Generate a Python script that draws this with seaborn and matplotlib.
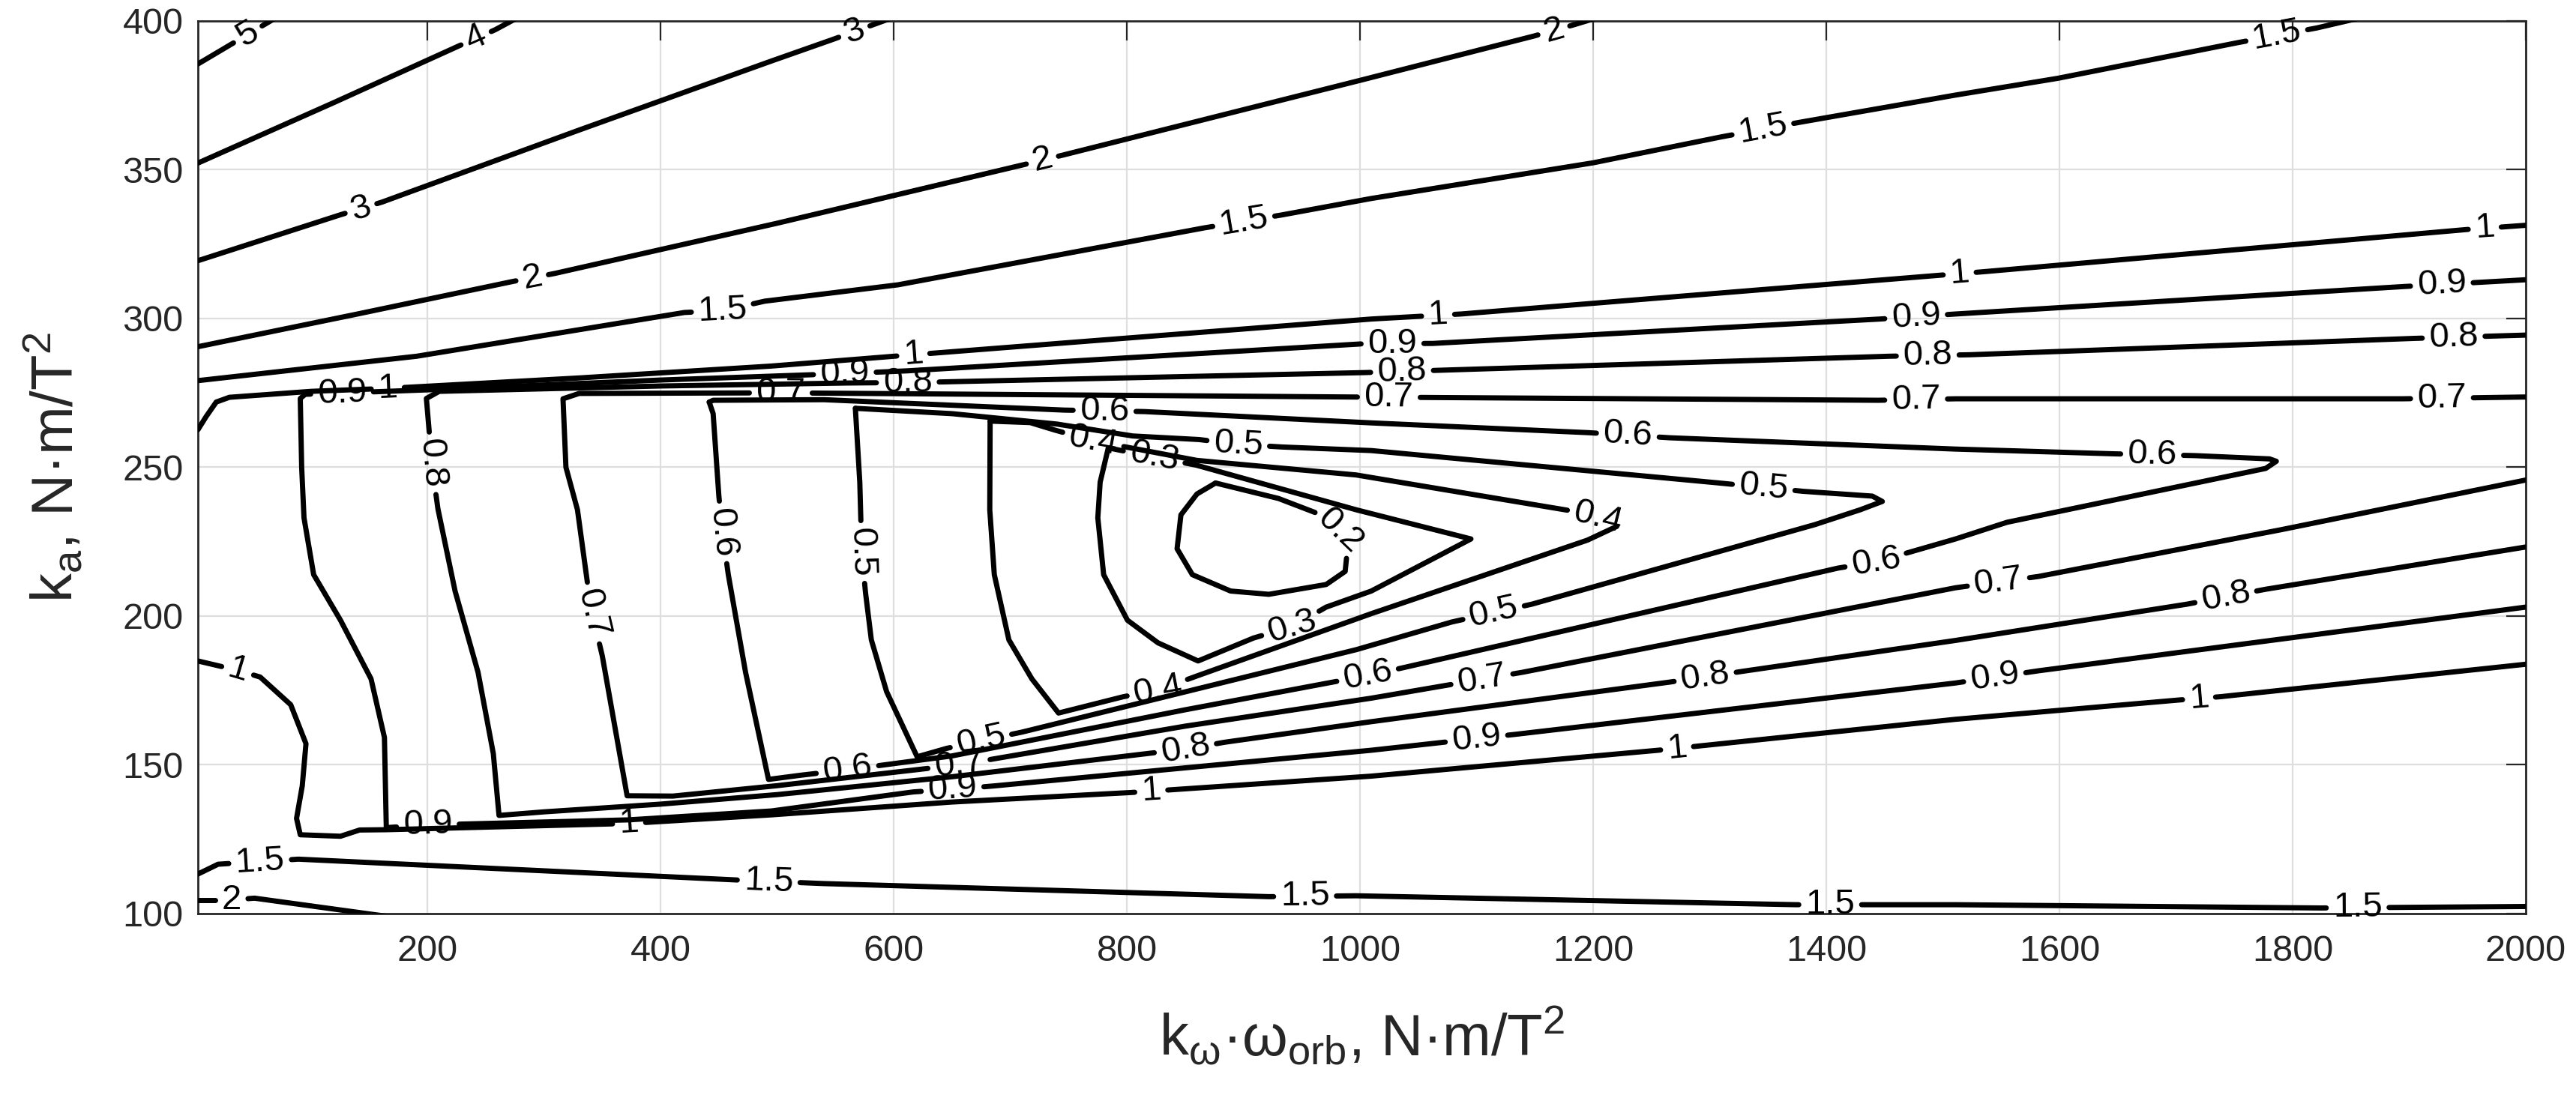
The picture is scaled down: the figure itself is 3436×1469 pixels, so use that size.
import numpy as np
import pandas as pd
import matplotlib
matplotlib.use("Agg")
import matplotlib.pyplot as plt
import seaborn as sns

# ---------------- data: contour lines ----------------
# x = k_w*w_orb (N*m/T^2), y = k_a (N*m/T^2)
lvl5_x = [3, 68, 72]
lvl5_y = [385.5, 400.6, 401.5]

lvl4_x = [3, 120, 227, 258, 276]
lvl4_y = [352.2, 372.6, 391.6, 397.0, 400.8]

lvl3_x = [3, 125, 161, 330, 495, 548, 597]
lvl3_y = [319.4, 334.8, 339.1, 363.3, 386.5, 393.8, 400.8]

lvl2_top_x = [3, 140, 272.8, 308.9, 500, 711.8, 746.2, 1000, 1149.2, 1183.6, 1203]
lvl2_top_y = [290.5, 301.5, 312.4, 315.1, 332.0, 351.7, 355.0, 380.0, 394.9, 398.7, 401.0]
lvl2_bot_x = [3, 13.8, 31.8, 51.5, 163, 172]
lvl2_bot_y = [104.6, 104.6, 104.6, 105.2, 99.2, 98.7]

lvl15_top_x = [3, 190.8, 420.4, 453.2, 489.2, 603.6, 865.9, 933.2, 1009.5, 1200, 1309.8,
               1377, 1510, 1598.7, 1753.3, 1820.6, 1858]
lvl15_top_y = [279.1, 287.3, 302.0, 302.6, 305.8, 311.3, 330.4, 334.8, 340.3, 352.3, 361.0,
               365.9, 375.0, 380.7, 392.7, 397.6, 401.0]
lvl15_bot_x = [3, 20.3, 56.4, 89.2, 471.2, 539.7, 921.7, 996.7, 1373.8, 1510.8, 1823.9, 2000]
lvl15_bot_y = [113.3, 116.6, 117.5, 118.3, 111.2, 110.1, 105.7, 106.0, 103.0, 103.0, 101.9, 102.4]

lvl1_top_x = [3, 10, 18.7, 30, 100, 166, 330, 495, 600.3, 1009.6, 1086.9, 1500, 1534.9, 1950, 2000]
lvl1_top_y = [262.6, 267.0, 271.9, 273.5, 275.5, 276.5, 280.0, 284.0, 287.3, 299.8, 301.5, 314.6,
              315.7, 329.9, 331.3]
lvl1_bot_x = [3, 36.7, 56.4, 82.6, 95.7, 92.5, 87.6, 90.8, 125.3, 141.7, 164.6, 372.8, 495.4, 650,
              803.6, 1009.6, 1255.7, 1510.8, 1702.9, 1738.2, 2000]
lvl1_bot_y = [184.9, 181.8, 179.5, 170.2, 157.1, 142.9, 132.0, 126.5, 126.0, 128.1, 128.2, 130.3,
              133.2, 137.5, 140.7, 146.2, 154.9, 165.3, 171.8, 172.9, 183.8]

lvl09_x = [2000, 1894.5, 1511.3, 1445.9, 1062.3, 1003.6, 612, 560, 400, 200, 95, 90.8,
           92, 94, 102.3, 125.3, 151.5, 163, 164.6,
           200, 372, 495, 616.7, 651, 685.6, 1009.6, 1134.4, 1510.8, 1582, 2000]
lvl09_y = [313.0, 310.7, 301.5, 299.8, 291.6, 291.5, 282.4, 281.5, 279.3, 276.0, 274.5, 273.1,
           250, 233, 213.9, 198.6, 178.9, 159.2, 128.9,
           129.8, 131.5, 134.5, 140.9, 141.8, 142.9, 154.9, 160.3, 177.5, 181.6, 203.0]

lvl08_x = [2000, 1904.6, 1523.1, 1454.1, 1003.6, 621.6, 560, 400, 210, 199,
           204, 208.9, 223.6, 243.3, 256.4, 261.3,
           300, 400, 500, 650, 850, 884, 1009.6, 1265.6, 1331.2, 1510.8, 1709.6, 1776.9, 2000]
lvl08_y = [294.4, 293.3, 287.8, 287.3, 281.8, 278.5, 278.3, 277.3, 275.5, 273.1,
           250, 236, 208.4, 181.1, 153.8, 133.0,
           134.2, 136.8, 140.0, 146.0, 155.3, 157.6, 164.5, 177.8, 181.6, 191.8, 204.0, 209.0, 223.2]

lvl07_x = [2000, 1894.5, 1511.3, 1444.3, 992.2, 610.2, 500, 330, 316.2,
           318.7, 328.6, 340, 349.9, 371.2,
           410.5, 500, 656, 850, 1009.6, 1139.3, 1510.8, 1582, 1790, 2000]
lvl07_y = [273.6, 273.0, 273.0, 272.5, 273.6, 274.7, 275.0, 274.8, 273.0,
           250, 235.7, 203, 186.6, 139.6,
           139.5, 143.0, 150.0, 163.0, 172.4, 181.1, 209.5, 213.3, 229.0, 245.7]

lvl06_x = [441.6, 445, 449.9, 453, 458, 472.8, 492.5,
           520, 559.3, 650, 850, 1006.5, 1037.7, 1409.9, 1442.6, 1510.8, 1555, 1776.9, 1786,
           1780.2, 1716.4, 1647.5, 1510.8, 1265.6, 1196.7, 1009.6, 815.1, 746.2, 540, 445, 441.6]
lvl06_y = [271.9, 268, 240.3, 228, 213.9, 181.1, 145.1,
           146.5, 148.3, 153.0, 168.5, 180.0, 182.7, 216.1, 218.2, 225.9, 231.5, 249.6, 252.0,
           252.8, 253.9, 254.5, 256.1, 259.9, 261.6, 264.9, 268.7, 269.2, 272.7, 272.5, 271.9]

lvl05_x = [567, 570.8, 572.5, 575.7, 580.7, 593.8, 620,
           645, 675.7, 710, 996.7, 1078.7, 1147.5, 1390, 1429, 1448,
           1439.4, 1380.3, 1308.2, 1009.6, 933, 895.4, 862, 805, 740, 650, 567]
lvl05_y = [269.8, 245.0, 221.0, 207.9, 192.0, 174.6, 152.7,
           155.5, 158.2, 161.0, 188.7, 198.0, 204.0, 230.7, 235.7, 238.5,
           240.3, 241.9, 244.7, 255.6, 256.8, 257.7, 259.3, 260.5, 264.5, 268.0, 269.8]

lvl04_x = [682.6, 682.3, 686.2, 698.7, 718.4, 741.3, 797, 826.6, 861, 1009.6, 1195, 1225,
           1180.3, 996.7, 860, 770.8, 738, 717, 682.6]
lvl04_y = [265.5, 235.7, 213.9, 192.0, 178.9, 167.4, 172.9, 175.1, 180.0, 200.8, 225.5, 231.0,
           235.4, 247.4, 252.3, 258.9, 262.5, 265.0, 265.5]

lvl03_x = [784, 777, 775, 780, 800.4, 826.6, 861, 908.5, 941.4, 970.9, 1009.6, 1095.1,
           996.7, 859.4, 823.3, 784]
lvl03_y = [256.5, 245, 233, 213.9, 198.6, 191.0, 184.9, 192.6, 196.4, 203.0, 208.4, 225.9,
           235.7, 250.7, 253.4, 256.5]

lvl02_x = [876, 930, 970, 990, 987.2, 970.9, 921.7, 888.9, 856.1, 843, 846.3, 860, 876]
lvl02_y = [244.7, 239.5, 233.5, 226.0, 215.0, 210.6, 207.3, 208.4, 213.9, 222.6, 234.0, 241.0, 244.7]

contour_paths = [
    (5, lvl5_x, lvl5_y), (4, lvl4_x, lvl4_y), (3, lvl3_x, lvl3_y),
    (2, lvl2_top_x, lvl2_top_y), (2, lvl2_bot_x, lvl2_bot_y),
    (1.5, lvl15_top_x, lvl15_top_y), (1.5, lvl15_bot_x, lvl15_bot_y),
    (1, lvl1_top_x, lvl1_top_y), (1, lvl1_bot_x, lvl1_bot_y),
    (0.9, lvl09_x, lvl09_y), (0.8, lvl08_x, lvl08_y), (0.7, lvl07_x, lvl07_y),
    (0.6, lvl06_x, lvl06_y), (0.5, lvl05_x, lvl05_y), (0.4, lvl04_x, lvl04_y),
    (0.3, lvl03_x, lvl03_y), (0.2, lvl02_x, lvl02_y),
]

# inline contour labels: level and approximate location
label_level = [5, 4, 3, 3, 2, 2, 2, 2,
               1.5, 1.5, 1.5, 1.5, 1.5, 1.5, 1.5, 1.5, 1.5,
               1, 1, 1, 1, 1, 1, 1, 1, 1, 1,
               0.9, 0.9, 0.9, 0.9, 0.9, 0.9, 0.9, 0.9, 0.9,
               0.8, 0.8, 0.8, 0.8, 0.8, 0.8, 0.8, 0.8,
               0.7, 0.7, 0.7, 0.7, 0.7, 0.7, 0.7, 0.7,
               0.6, 0.6, 0.6, 0.6, 0.6, 0.6, 0.6,
               0.5, 0.5, 0.5, 0.5, 0.5,
               0.4, 0.4, 0.4,
               0.3, 0.3,
               0.2]
label_x = [46.6, 243.3, 143.3, 567.5, 290.9, 728, 1167.2, 31.8,
           453.2, 900.4, 1346, 1787, 56.4, 492.5, 952.8, 1403.3, 1855.8,
           166, 616.7, 1067, 1514.7, 1965, 36.7, 372.8, 820.9, 1272.1, 1719.7,
           126.9, 558, 1027.8, 1477, 1928, 200.1, 650.4, 1100, 1545,
           200.7, 612, 1036, 1487, 1938.2, 850.2, 1296.7, 1743.3,
           340, 503, 1024.6, 1477, 1928.1, 656, 1104.9, 1548.3,
           453.2, 780.7, 1229.5, 1679.4, 559.8, 1006.5, 1442.6,
           572.5, 895.4, 1346, 674.4, 1114.7,
           770.8, 1203, 826.6,
           823.3, 941.4,
           984]
label_y = [394.9, 392.7, 336.4, 394.9, 311.3, 352.3, 395.4, 104.1,
           302.6, 332.1, 362.6, 393.8, 117.2, 109.6, 104.6, 101.9, 100.8,
           275.0, 287.8, 300.4, 313.5, 329.3, 181.1, 130.8, 140.9, 154.9, 172.4,
           272.5, 281.0, 290.5, 300.4, 311.3, 131.8, 141.7, 158.2, 177.8,
           251.2, 277.5, 281.8, 286.2, 292.7, 155.3, 177.8, 205.1,
           200.8, 273.0, 272.0, 272.0, 272.5, 150.0, 177.8, 209.5,
           228.1, 267.0, 259.9, 253.4, 149.6, 180.0, 218.2,
           221.5, 257.7, 242.5, 158.6, 200.8,
           258.9, 231.5, 175.1,
           253.4, 196.4,
           229.2]

x_ticks = [200, 400, 600, 800, 1000, 1200, 1400, 1600, 1800, 2000]
y_ticks = [100, 150, 200, 250, 300, 350, 400]

# ---------------- style ----------------
sns.set_theme(style="white")
plt.rcParams["font.family"] = ["Liberation Sans", "DejaVu Sans"]
plt.rcParams["mathtext.fontset"] = "custom"
plt.rcParams["mathtext.rm"] = "Liberation Sans"
plt.rcParams["mathtext.it"] = "Liberation Sans:italic"

W, H = 3436, 1469
fig = plt.figure(figsize=(W / 100, H / 100), dpi=100)
L, R, B, T = 264 / W, 3369 / W, 1 - 1219 / H, 1 - 27.8 / H
ax = fig.add_axes([L, B, R - L, T - B])
XLIM, YLIM = (3, 2000), (100, 400)
ax.set_xlim(*XLIM)
ax.set_ylim(*YLIM)

LW = 5.0
FS_LAB = 34
renderer = fig.canvas.get_renderer()


def text_width(s):
    t = ax.text(0, 0, s, fontsize=FS_LAB)
    w = t.get_window_extent(renderer).width
    t.remove()
    return w


# display-space geometry of each path
geo = []
for lev, px, py in contour_paths:
    d = ax.transData.transform(np.column_stack([px, py]))
    seg = np.hypot(np.diff(d[:, 0]), np.diff(d[:, 1]))
    s = np.concatenate([[0], np.cumsum(seg)])
    geo.append((lev, np.asarray(px, float), np.asarray(py, float), d, s))

gaps = [[] for _ in geo]
label_draw = []
for lev, lx, ly in zip(label_level, label_x, label_y):
    p = ax.transData.transform([[lx, ly]])[0]
    best = None
    for gi, (glev, px, py, d, s) in enumerate(geo):
        if abs(glev - lev) > 1e-9:
            continue
        for k in range(len(d) - 1):
            a, b = d[k], d[k + 1]
            v = b - a
            L2 = v @ v
            if L2 == 0:
                continue
            t = np.clip((p - a) @ v / L2, 0, 1)
            q = a + t * v
            dist = np.hypot(*(p - q))
            if best is None or dist < best[0]:
                best = (dist, gi, k, t, q, v)
    _, gi, k, t, q, v = best
    s0 = geo[gi][4][k] + t * (geo[gi][4][k + 1] - geo[gi][4][k])
    txt = "%g" % lev
    h = text_width(txt) / 2 + 9
    gaps[gi].append((s0 - h, s0 + h))
    ang = np.degrees(np.arctan2(v[1], v[0]))
    if ang > 90:
        ang -= 180
    if ang <= -90:
        ang += 180
    qd = ax.transData.inverted().transform([q])[0]
    label_draw.append((txt, qd[0], qd[1], ang))

# draw contour lines with gaps where labels sit
for gi, (lev, px, py, d, s) in enumerate(geo):
    total = s[-1]
    keep, cur = [], 0.0
    for a, b in sorted(gaps[gi]):
        if a > cur:
            keep.append((cur, a))
        cur = max(cur, b)
    if cur < total:
        keep.append((cur, total))
    for a, b in keep:
        inner = [si for si in s if a < si < b]
        ss = np.array([a] + inner + [b])
        xs = np.interp(ss, s, px)
        ys = np.interp(ss, s, py)
        df = pd.DataFrame({"x": xs, "y": ys})
        sns.lineplot(data=df, x="x", y="y", sort=False, estimator=None, color="black",
                     linewidth=LW, ax=ax, legend=False, zorder=3)

for txt, x, y, ang in label_draw:
    ax.text(x, y, txt, rotation=ang, rotation_mode="anchor", ha="center", va="center",
            fontsize=FS_LAB, color="black", zorder=5, clip_on=False)

ax.set_xlim(*XLIM)
ax.set_ylim(*YLIM)
ax.set_xticks(x_ticks)
ax.set_yticks(y_ticks)
ax.grid(True, color="#dedede", linewidth=1.6)
ax.set_axisbelow(True)
ax.tick_params(axis="both", direction="in", length=19, width=1.6, top=True, right=True,
               labelsize=35, colors="#262626")
ax.tick_params(axis="x", pad=20)
ax.tick_params(axis="y", pad=14)
for sp in ax.spines.values():
    sp.set_color("#262626")
    sp.set_linewidth(2)
    sp.set_visible(True)

ax.set_xlabel(r"k$_{\mathregular{ω}}$·ω$_{\mathregular{orb}}$, N·m/T$^{\mathregular{2}}$",
              fontsize=56, color="#262626")
ax.set_ylabel(r"k$_{\mathregular{a}}$, N·m/T$^{\mathregular{2}}$", fontsize=56, color="#262626")
ax.xaxis.set_label_coords(0.5, -0.137)
ax.xaxis.label.set_va("center")
ax.yaxis.set_label_coords(-0.062, 0.5)
ax.yaxis.label.set_va("center")

fig.savefig("out.png", dpi=100)
